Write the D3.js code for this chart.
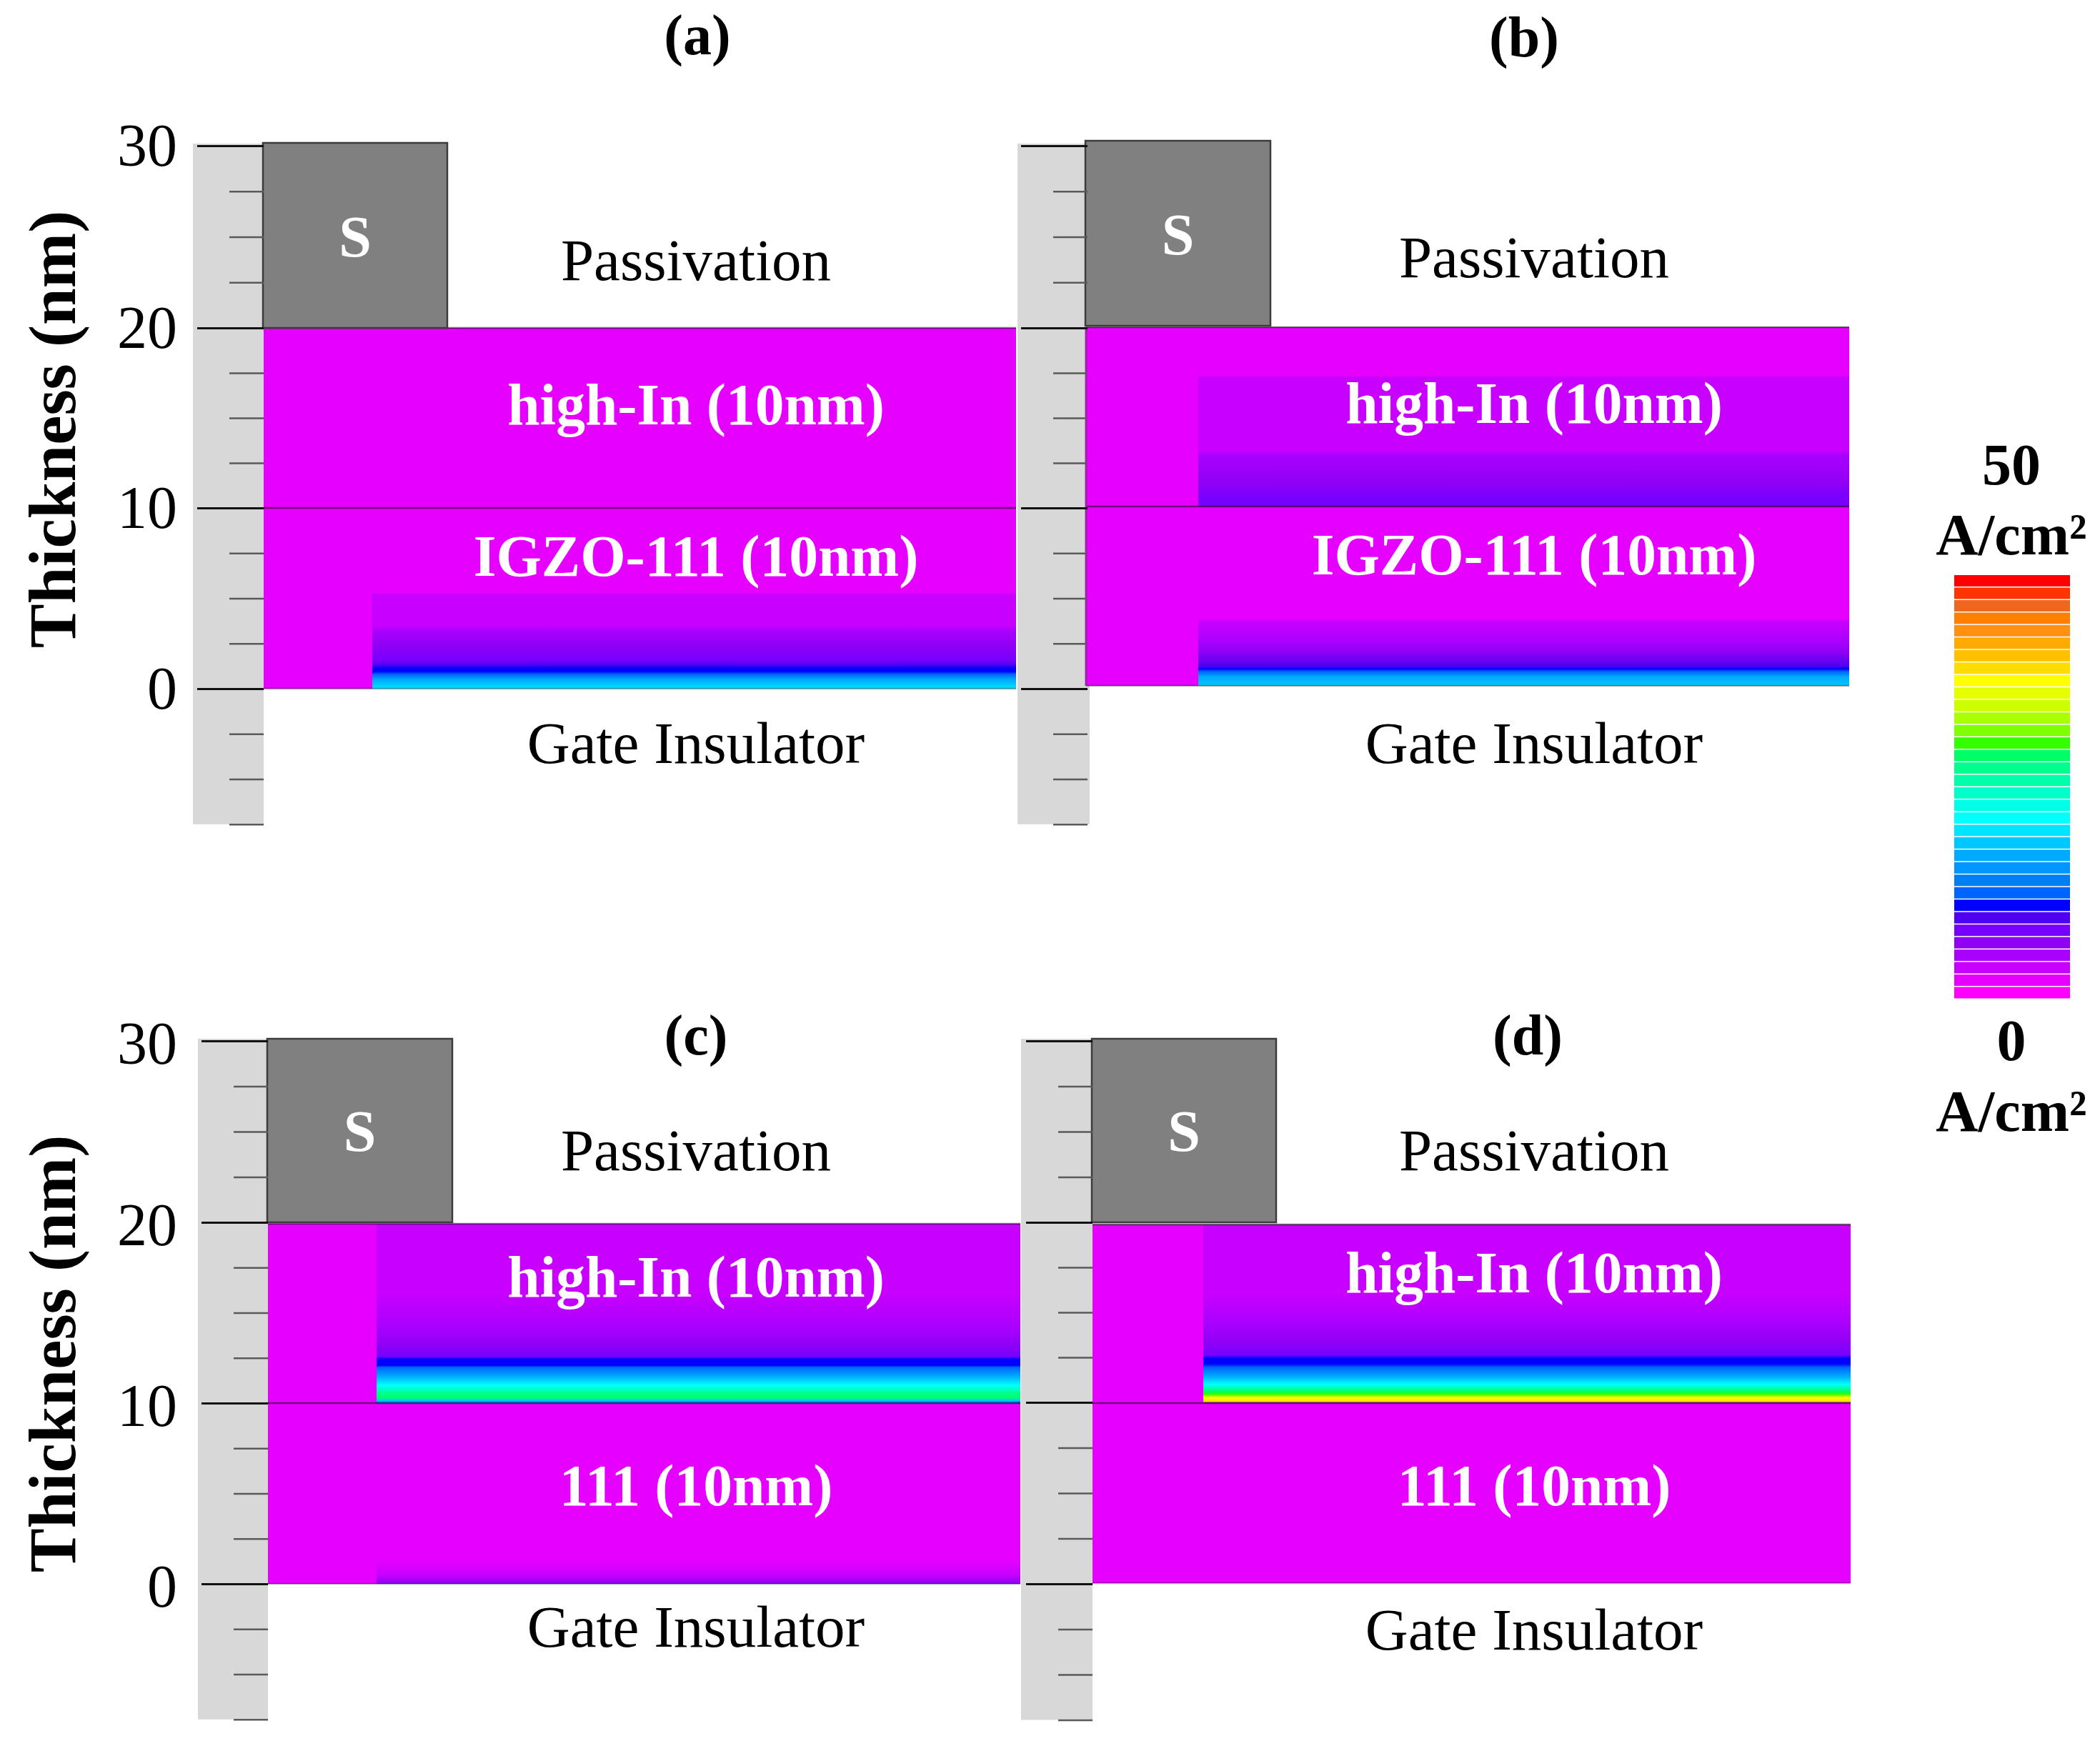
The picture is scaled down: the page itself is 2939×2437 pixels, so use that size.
<!DOCTYPE html>
<html>
<head>
<meta charset="utf-8">
<script src="https://cdn.jsdelivr.net/npm/d3@7"></script>
<style>
  body { margin: 0; background: #fff; }
  text { font-family: "Liberation Serif", serif; }
</style>
</head>
<body>
<script>
/* -----------------------------------------------------
 *  Data
 ----------------------------------------------------- */
const panelNames = ["(a)", "(b)", "(c)", "(d)"];
const upperLayers = ["high-In (10nm)", "high-In (10nm)", "high-In (10nm)", "high-In (10nm)"];
const lowerLayers = ["IGZO-111 (10nm)", "IGZO-111 (10nm)", "111 (10nm)", "111 (10nm)"];
const majorTicks = [30, 20, 10, 0];
const minorTicks = [27.5, 25, 22.5, 17.5, 15, 12.5, 7.5, 5, 2.5, -2.5, -5, -7.5];
const layerBoundaries = [0, 10, 20];

// colour bar, lowest band first
const bandColors = [
  "#ff00ff", "#e600ff", "#c800ff", "#aa00ff", "#9000f5", "#7800ff", "#5000f0", "#0000ff", "#0064ff",
  "#0080f0", "#0096ff", "#00aaff", "#00c8ff", "#00e5ff", "#00ffff", "#00ffe6", "#00ffcc", "#00ffaa",
  "#00ff8c", "#00ff66", "#33ff00", "#80ff00", "#aaff00", "#ccff00", "#e6ff00", "#ffff00", "#ffdd00",
  "#ffc000", "#ffaa00", "#ff9010", "#ff7f00", "#f0661e", "#ff3300", "#ff0000",
];

// [thickness nm, current density A/cm2] under the channel part of each panel
const profileA = [
  [0, 20], [0.5, 16.9], [0.8, 12.5], [0.95, 11], [1.15, 11], [1.3, 9.5], [1.6, 8.1], [2.4, 6.6],
  [3.2, 5.1], [3.5, 3.7], [5.2, 3.7], [5.3, 2.2], [20, 2.2],
];
const profileB = [
  [0, 18.4], [0.5, 16.9], [0.8, 12.5], [0.95, 11], [1.1, 9.5], [1.9, 6.6], [2.5, 5.1], [3.6, 3.7],
  [3.7, 2.2], [10, 2.2], [10, 8.1], [10.5, 8.1], [11.3, 6.6], [12.9, 5.1], [13.1, 3.7], [17.2, 3.7],
  [17.3, 2.2], [20, 2.2],
];
const profileC = [
  [0, 6.6], [0.5, 3.7], [1.3, 2.2], [10, 2.2], [10, 12.5], [10.14, 18.4], [10.3, 28.7],
  [10.55, 27.2], [11, 21.3], [11.5, 16.9], [12, 12.5], [12.1, 11], [12.45, 11], [12.6, 8.1],
  [13.3, 6.6], [14.2, 5.1], [16.2, 3.7], [20, 3.7],
];
const profileD = [
  [0, 2.2], [10, 2.2], [10, 5.1], [10.1, 39], [10.3, 37.5], [10.5, 30.1], [10.65, 28.7], [11.05, 21.3],
  [11.5, 16.9], [12, 12.5], [12.2, 11], [12.5, 11], [12.7, 8.1], [13.4, 6.6], [14.5, 5.1],
  [16.2, 3.7], [20, 3.7],
];
const profiles = [profileA, profileB, profileC, profileD];

/* -----------------------------------------------------
 *  Layout
 ----------------------------------------------------- */
const width = 2939;
const height = 2437;

// pixel frame of each panel. The ruler and the plot were pasted slightly apart in the
// original, so each has its own pixel positions for 0, 10, 20, 30 nm.
const frames = [
  { axisX: 369, left: 369, right: 1422, stripLeft: 270, stripRight: 369, ruler: [964, 711, 459, 204], plot: [964, 711, 459, 204], sLeft: 368, sTop: 200, sBottom: 459, sRight: 626, labelX: 974, titleX: 976, titleY: 76, passY: 392, upperY: 594, lowerY: 806, gateY: 1068, channel: 521 },
  { axisX: 1522, left: 1520, right: 2588, stripLeft: 1424, stripRight: 1525, ruler: [964, 711, 459, 204], plot: [960, 709, 458, 204], sLeft: 1519, sTop: 197, sBottom: 456, sRight: 1778, labelX: 2147, titleX: 2133, titleY: 79, passY: 388, upperY: 592, lowerY: 804, gateY: 1068, channel: 1677, edge: "#a020b0" },
  { axisX: 375, left: 375, right: 1428, stripLeft: 277, stripRight: 375, ruler: [2217, 1964, 1711, 1457], plot: [2217, 1964, 1713, 1457], sLeft: 374, sTop: 1454, sBottom: 1711, sRight: 633, labelX: 974, titleX: 974, titleY: 1476, passY: 1638, upperY: 1815, lowerY: 2107, gateY: 2305, channel: 527 },
  { axisX: 1529, left: 1529, right: 2590, stripLeft: 1429, stripRight: 1529, ruler: [2217, 1963, 1711, 1457], plot: [2216, 1964, 1714, 1457], sLeft: 1528, sTop: 1454, sBottom: 1711, sRight: 1786, labelX: 2147, titleX: 2138, titleY: 1476, passY: 1638, upperY: 1809, lowerY: 2107, gateY: 2309, channel: 1684 },
];
const axisLabelY = [601, null, 1895, null];

const svg = d3
  .select("body")
  .append("svg")
  .attr("width", width)
  .attr("height", height)
  .style("display", "block");

const defs = svg.append("defs");

const colorScale = d3.scaleQuantize().domain([0, 50]).range(bandColors);
const baseColor = colorScale(2.2);

/* -----------------------------------------------------
 *  Panels
 ----------------------------------------------------- */
frames.forEach((f, i) => {
  const yRuler = d3.scaleLinear().domain([0, 10, 20, 30]).range(f.ruler);
  const y = d3.scaleLinear().domain([0, 10, 20, 30]).range(f.plot);
  const g = svg.append("g");

  // grey ruler strip
  g.append("rect")
    .attr("x", f.stripLeft)
    .attr("y", yRuler(30) - 3)
    .attr("width", f.stripRight - f.stripLeft)
    .attr("height", yRuler(-7.5) - yRuler(30) + 3)
    .attr("fill", "#d8d8d8");

  // semiconductor stack
  g.append("rect")
    .attr("x", f.left)
    .attr("y", y(20))
    .attr("width", f.right - f.left)
    .attr("height", y(0) - y(20))
    .attr("fill", baseColor);

  // channel current profile
  const grad = defs
    .append("linearGradient")
    .attr("id", "profile" + i)
    .attr("x1", 0)
    .attr("x2", 0)
    .attr("y1", 0)
    .attr("y2", 1);
  grad
    .selectAll("stop")
    .data(profiles[i].slice().reverse())
    .enter()
    .append("stop")
    .attr("offset", (d) => (y(d[0]) - y(20)) / (y(0) - y(20)))
    .attr("stop-color", (d) => colorScale(d[1]));

  g.append("rect")
    .attr("x", f.channel)
    .attr("y", y(20))
    .attr("width", f.right - f.channel)
    .attr("height", y(0) - y(20))
    .attr("fill", `url(#profile${i})`);

  // layer boundaries
  g.selectAll(".boundary")
    .data(layerBoundaries)
    .enter()
    .append("line")
    .attr("class", "boundary")
    .attr("x1", f.left)
    .attr("x2", f.right)
    .attr("y1", (d) => y(d))
    .attr("y2", (d) => y(d))
    .attr("stroke", "#000")
    .attr("stroke-opacity", (d) => (d === 0 ? 0.3 : 0.5))
    .attr("stroke-width", 2.5);

  if (f.edge) {
    g.append("line")
      .attr("x1", f.left)
      .attr("x2", f.left)
      .attr("y1", y(20))
      .attr("y2", y(0))
      .attr("stroke", f.edge)
      .attr("stroke-width", 3);
  }

  // source contact
  g.append("rect")
    .attr("x", f.sLeft)
    .attr("y", f.sTop)
    .attr("width", f.sRight - f.sLeft)
    .attr("height", f.sBottom - f.sTop)
    .attr("fill", "#808080")
    .attr("stroke", "#3c3c3c")
    .attr("stroke-width", 2.5);

  g.append("text")
    .attr("x", (f.sLeft + f.sRight) / 2)
    .attr("y", f.sBottom - 100)
    .attr("text-anchor", "middle")
    .attr("font-size", 82)
    .attr("font-weight", "bold")
    .attr("fill", "#fff")
    .text("S");

  // axes
  const minorAxis = d3.axisLeft(yRuler).tickValues(minorTicks).tickSize(48).tickFormat("");
  const majorAxis = d3.axisLeft(yRuler).tickValues(majorTicks).tickSize(93);
  if (i % 2 === 0) {
    majorAxis.tickPadding(f.axisX - 93 - 248);
  } else {
    majorAxis.tickFormat("");
  }

  const minorG = g.append("g").attr("transform", `translate(${f.axisX},0)`).call(minorAxis);
  minorG.select(".domain").remove();
  minorG.selectAll("line").attr("stroke", "#5a5a5a").attr("stroke-width", 2.5);

  const majorG = g.append("g").attr("transform", `translate(${f.axisX},0)`).call(majorAxis);
  majorG.select(".domain").remove();
  majorG.selectAll("line").attr("stroke", "#111").attr("stroke-width", 3);
  if (i % 2 === 0) {
    majorG
      .selectAll("text")
      .attr("font-size", 84)
      .attr("font-family", "Liberation Serif")
      .attr("dy", i === 2 ? "0.37em" : "0.33em")
      .attr("fill", "#000");
  }

  // panel text
  const addText = (x, ty, content, size, bold, fill) =>
    g.append("text")
      .attr("x", x)
      .attr("y", ty)
      .attr("text-anchor", "middle")
      .attr("font-size", size)
      .attr("font-weight", bold ? "bold" : "normal")
      .attr("fill", fill)
      .text(content);

  addText(f.titleX, f.titleY, panelNames[i], 80, true, "#000");
  addText(f.labelX, f.passY, "Passivation", 83, false, "#000");
  addText(f.labelX, f.upperY, upperLayers[i], 81.5, true, "#fff");
  addText(f.labelX, f.lowerY, lowerLayers[i], 81.5, true, "#fff");
  addText(f.labelX, f.gateY, "Gate Insulator", 83, false, "#000");

  if (axisLabelY[i] !== null) {
    g.append("text")
      .attr("transform", `translate(105,${axisLabelY[i]}) rotate(-90)`)
      .attr("text-anchor", "middle")
      .attr("font-size", 93)
      .attr("font-weight", "bold")
      .attr("fill", "#000")
      .text("Thickness (nm)");
  }
});

/* -----------------------------------------------------
 *  Colour bar
 ----------------------------------------------------- */
const barY = d3.scaleLinear().domain([0, 50]).range([1399, 805]);

svg
  .selectAll(".band")
  .data(bandColors)
  .enter()
  .append("rect")
  .attr("class", "band")
  .attr("x", 2735)
  .attr("width", 162)
  .attr("y", (d) => barY(colorScale.invertExtent(d)[1]))
  .attr("height", (d) => {
    const [lo, hi] = colorScale.invertExtent(d);
    return barY(lo) - barY(hi) - 1.5;
  })
  .attr("fill", (d) => d);

const barLabels = [
  { text: "50", y: 678 },
  { text: "A/cm²", y: 776 },
  { text: "0", y: 1484 },
  { text: "A/cm²", y: 1583 },
];

svg
  .selectAll(".barLabel")
  .data(barLabels)
  .enter()
  .append("text")
  .attr("class", "barLabel")
  .attr("x", 2815)
  .attr("y", (d) => d.y)
  .attr("text-anchor", "middle")
  .attr("font-size", 82)
  .attr("font-weight", "bold")
  .text((d) => d.text);
</script>
</body>
</html>
